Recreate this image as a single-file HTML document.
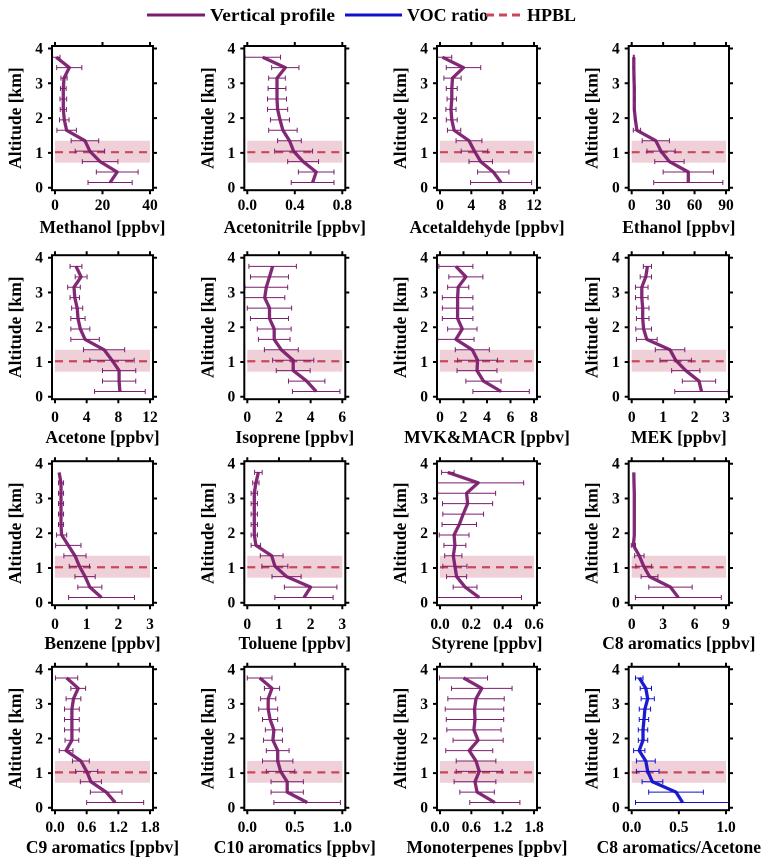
<!DOCTYPE html>
<html><head><meta charset="utf-8">
<style>
html,body{margin:0;padding:0;background:#fff;}
svg{display:block;font-family:"Liberation Serif",serif;font-weight:bold;}
</style></head>
<body>
<svg id="chart" width="772" height="864" viewBox="0 0 772 864">
  <g>
    <g>
      <line x1="147" y1="15" x2="205" y2="15" stroke="#7b1e6e" stroke-width="3"/>
      <text x="210" y="21" font-size="18" textLength="125" lengthAdjust="spacingAndGlyphs">Vertical profile</text>
    </g>
    <g>
      <line x1="345" y1="15" x2="402" y2="15" stroke="#1010cc" stroke-width="3"/>
      <text x="407" y="21" font-size="18">VOC ratio</text>
    </g>
    <g>
      <line x1="486" y1="15" x2="522" y2="15" stroke="#c8485a" stroke-width="3" stroke-dasharray="8,5"/>
      <text x="527" y="21" font-size="18">HPBL</text>
    </g>
  </g>
  <g id="panels"></g>
</svg>
<script>
const altitudes = [0.15,0.45,0.75,1.05,1.35,1.65,1.95,2.25,2.55,2.85,3.15,3.45,3.75];
const yTicks = [0,1,2,3,4];
const hpblAlt = 1.02;
const hpblLow = 0.72;
const hpblHigh = 1.35;

const methanolVals = [23.2,26.2,19,14.7,12.6,4.9,3.9,3.5,3.5,3.5,3.8,6,0.5];
const methanolErrs = [9.3,8.8,7.5,6.2,5.8,4.1,2,1.3,1.4,1.2,1.3,5.3,1.6];
const acetonitrileVals = [0.55,0.58,0.47,0.39,0.355,0.30,0.275,0.255,0.25,0.25,0.25,0.32,0.13];
const acetonitrileErrs = [0.18,0.15,0.13,0.16,0.1,0.12,0.08,0.085,0.08,0.075,0.07,0.115,0.15];
const acetaldehydeVals = [7.8,6.8,5.2,4.4,3.7,1.8,1.5,1.4,1.5,1.5,1.6,3,0.3];
const acetaldehydeErrs = [3.9,2,1.5,1.7,1.65,0.85,0.7,0.65,0.6,0.7,1.1,2.2,1.2];
const ethanolVals = [54,54,36,28,23,5,3.5,2.5,2.5,2.5,2.2,2,2];
const ethanolErrs = [33,24,14,13.5,13,3.5,0.5,0.5,0.5,0.5,0.5,0.5,0.5];
const acetoneVals = [8.2,8.1,8.1,7.2,6.2,3.8,3.2,2.9,2.8,2.5,2.4,3.3,2.65];
const acetoneErrs = [3.2,2.1,2.1,2.8,2.6,1.8,1.2,0.9,0.7,0.6,0.8,0.75,0.75];
const isopreneVals = [4.35,3.75,2.9,2.9,2.15,1.7,1.7,1.4,1.4,1.1,1.2,1.4,1.6];
const isopreneErrs = [1.5,1.15,1.07,1.3,1.07,1.0,1.07,1.2,1.4,1.27,1.35,1.2,1.5];
const mvkVals = [5.2,3.7,3.15,3.2,2.75,1.35,1.9,1.5,1.5,1.5,1.55,2.2,1.35];
const mvkErrs = [2.4,1.5,1.7,1.7,1.45,1.55,1.25,1.3,1.3,1.3,0.9,1.45,1.45];
const mekVals = [2.22,2.14,1.72,1.4,1.22,0.48,0.38,0.35,0.35,0.32,0.32,0.45,0.5];
const mekErrs = [0.85,0.53,0.45,0.5,0.47,0.33,0.25,0.2,0.2,0.2,0.2,0.18,0.13];
const benzeneVals = [1.47,1.1,0.95,0.77,0.63,0.42,0.21,0.19,0.19,0.19,0.19,0.19,0.13];
const benzeneErrs = [1.04,0.38,0.32,0.32,0.35,0.4,0.16,0.08,0.08,0.08,0.08,0.08,0];
const tolueneVals = [1.79,2.0,1.24,0.87,0.77,0.27,0.22,0.22,0.22,0.22,0.22,0.27,0.35];
const tolueneErrs = [0.92,0.83,0.46,0.41,0.36,0.15,0.1,0.1,0.1,0.1,0.1,0.1,0.12];
const styreneVals = [0.25,0.16,0.106,0.095,0.085,0.095,0.09,0.123,0.148,0.176,0.17,0.244,0.05];
const styreneErrs = [0.27,0.076,0.064,0.077,0.055,0.07,0.095,0.11,0.13,0.16,0.185,0.29,0.04];
const c8Vals = [4.45,3.7,1.7,1.15,0.73,0.16,0.25,0.25,0.25,0.25,0.25,0.22,0.2];
const c8Errs = [4.1,2.07,0.8,0.75,0.45,0.2,0,0,0,0,0,0,0];
const c9Vals = [1.14,0.97,0.68,0.6,0.49,0.21,0.32,0.32,0.32,0.32,0.35,0.44,0.22];
const c9Errs = [0.54,0.3,0.2,0.21,0.16,0.13,0.13,0.14,0.14,0.14,0.14,0.14,0.21];
const c10Vals = [0.63,0.42,0.42,0.35,0.32,0.32,0.27,0.28,0.24,0.22,0.22,0.26,0.13];
const c10Errs = [0.35,0.17,0.17,0.15,0.16,0.12,0.1,0.09,0.08,0.1,0.08,0.08,0.13];
const monoVals = [1.05,0.71,0.67,0.75,0.69,0.56,0.73,0.65,0.67,0.66,0.69,0.8,0.45];
const monoErrs = [0.48,0.33,0.4,0.44,0.38,0.45,0.48,0.52,0.55,0.56,0.54,0.58,0.46];
const ratioVals = [0.54,0.47,0.22,0.17,0.15,0.08,0.12,0.12,0.13,0.14,0.17,0.15,0.08];
const ratioErrs = [0.5,0.29,0.11,0.12,0.1,0.06,0.05,0.05,0.05,0.06,0.07,0.06,0.04];

const methanolTicks = ["0","20","40"];
const acetonitrileTicks = ["0.0","0.4","0.8"];
const acetaldehydeTicks = ["0","4","8","12"];
const ethanolTicks = ["0","30","60","90"];
const acetoneTicks = ["0","4","8","12"];
const isopreneTicks = ["0","2","4","6"];
const mvkTicks = ["0","2","4","6","8"];
const mekTicks = ["0","1","2","3"];
const benzeneTicks = ["0","1","2","3"];
const tolueneTicks = ["0","1","2","3"];
const styreneTicks = ["0.0","0.2","0.4","0.6"];
const c8Ticks = ["0","3","6","9"];
const c9Ticks = ["0.0","0.6","1.2","1.8"];
const c10Ticks = ["0.0","0.5","1.0"];
const monoTicks = ["0.0","0.6","1.2","1.8"];
const ratioTicks = ["0.0","0.5","1.0"];

const panels = [
 {id:"methanol",title:"Methanol [ppbv]",v:methanolVals,e:methanolErrs,t:methanolTicks},
 {id:"acetonitrile",title:"Acetonitrile [ppbv]",v:acetonitrileVals,e:acetonitrileErrs,t:acetonitrileTicks},
 {id:"acetaldehyde",title:"Acetaldehyde [ppbv]",v:acetaldehydeVals,e:acetaldehydeErrs,t:acetaldehydeTicks},
 {id:"ethanol",title:"Ethanol [ppbv]",v:ethanolVals,e:ethanolErrs,t:ethanolTicks},
 {id:"acetone",title:"Acetone [ppbv]",v:acetoneVals,e:acetoneErrs,t:acetoneTicks},
 {id:"isoprene",title:"Isoprene [ppbv]",v:isopreneVals,e:isopreneErrs,t:isopreneTicks},
 {id:"mvk-macr",title:"MVK&MACR [ppbv]",v:mvkVals,e:mvkErrs,t:mvkTicks},
 {id:"mek",title:"MEK [ppbv]",v:mekVals,e:mekErrs,t:mekTicks},
 {id:"benzene",title:"Benzene [ppbv]",v:benzeneVals,e:benzeneErrs,t:benzeneTicks},
 {id:"toluene",title:"Toluene [ppbv]",v:tolueneVals,e:tolueneErrs,t:tolueneTicks},
 {id:"styrene",title:"Styrene [ppbv]",v:styreneVals,e:styreneErrs,t:styreneTicks},
 {id:"c8-aromatics",title:"C8 aromatics [ppbv]",v:c8Vals,e:c8Errs,t:c8Ticks},
 {id:"c9-aromatics",title:"C9 aromatics [ppbv]",v:c9Vals,e:c9Errs,t:c9Ticks},
 {id:"c10-aromatics",title:"C10 aromatics [ppbv]",v:c10Vals,e:c10Errs,t:c10Ticks},
 {id:"monoterpenes",title:"Monoterpenes [ppbv]",v:monoVals,e:monoErrs,t:monoTicks},
 {id:"c8-acetone-ratio",title:"C8 aromatics/Acetone",v:ratioVals,e:ratioErrs,t:ratioTicks,blue:true}
];

const colX0 = [55,247.3,440,631.7];
const colX1 = [150,342.3,534,726];
const rowY4 = [48.5,257.7,463.7,669.3];
const rowY0 = [187.7,396.7,602.7,807.7];
const rowTickLab = [205,417,624,827];
const rowTitle = [227,437,643,847];

const NS = "http://www.w3.org/2000/svg";
function mk(tag, attrs, parent){
  const el = document.createElementNS(NS, tag);
  for (const k in attrs) el.setAttribute(k, attrs[k]);
  parent.appendChild(el);
  return el;
}
const root = document.getElementById("panels");

panels.forEach((p, idx) => {
  const c = idx % 4, r = Math.floor(idx / 4);
  const xmax = parseFloat(p.t[p.t.length-1]);
  const px0 = colX0[c], px1 = colX1[c];
  const xs = v => px0 + (v / xmax) * (px1 - px0);
  const ys = a => rowY0[r] + (a / 4) * (rowY4[r] - rowY0[r]);
  const fl = px0 - 3, fr = px1 + 3, ft = rowY4[r] - 2.5, fb = rowY0[r] + 2.5;
  const color = p.blue ? "#1010cc" : "#7b1e6e";

  const g = mk("g", {}, root);
  
  

  const band = mk("rect", {x:xs(0), y:ys(hpblHigh), width:xs(xmax)-xs(0), height:ys(hpblLow)-ys(hpblHigh), fill:"#f0d0d8"}, g);
  
  
  const hl = mk("line", {x1:xs(0), x2:xs(xmax), y1:ys(hpblAlt), y2:ys(hpblAlt), stroke:"#c8485a", "stroke-width":2.2, "stroke-dasharray":"8,6"}, g);
  
  

  p.v.forEach((v, i) => {
    const e = p.e[i];
    if (e <= 0) return;
    const y = ys(altitudes[i]);
    const a = Math.max(fl, xs(v - e)), b = Math.min(fr, xs(v + e));
    const eb = mk("path", {d:`M${a},${y}H${b}M${a},${y-2.5}V${y+2.5}M${b},${y-2.5}V${y+2.5}`, stroke:color, "stroke-width":1, fill:"none"}, g);
    
    
  });

  const d = p.v.map((v, i) => (i ? "L" : "M") + xs(v).toFixed(1) + "," + ys(altitudes[i]).toFixed(1)).join("");
  const ln = mk("path", {d:d, stroke:color, "stroke-width":3.3, fill:"none", "stroke-linejoin":"round", opacity:0.95}, g);
  
  

  const fr_ = mk("rect", {x:fl, y:ft, width:fr-fl, height:fb-ft, fill:"none", stroke:"#000", "stroke-width":2}, g);
  
  

  yTicks.forEach(t => {
    const y = ys(t);
    mk("path", {d:`M${fl-4},${y}H${fl}M${fr},${y}H${fr+4}`, stroke:"#000", "stroke-width":2}, g);
    const tl = mk("text", {x:fl-9, y:y+5, "font-size":15.5, "text-anchor":"end"}, g);
    tl.textContent = t;
    
    
  });
  p.t.forEach(t => {
    const x = xs(parseFloat(t));
    mk("path", {d:`M${x},${fb}V${fb+4}M${x},${ft}V${ft-4}`, stroke:"#000", "stroke-width":2}, g);
    const tl = mk("text", {x:x, y:rowTickLab[r]+5, "font-size":15.5, "text-anchor":"middle"}, g);
    tl.textContent = t;
    
    
  });
  const xt = mk("text", {x:(fl+fr)/2, y:rowTitle[r]+6, "font-size":17.5, "text-anchor":"middle"}, g);
  xt.textContent = p.title;
  
  
  const ty = (ft+fb)/2, tx = fl - 37;
  const yt = mk("text", {x:tx, y:ty, "font-size":17.5, "text-anchor":"middle", transform:`rotate(-90 ${tx} ${ty})`, dy:"6"}, g);
  yt.textContent = "Altitude [km]";
  
  
});
</script>
</body></html>
